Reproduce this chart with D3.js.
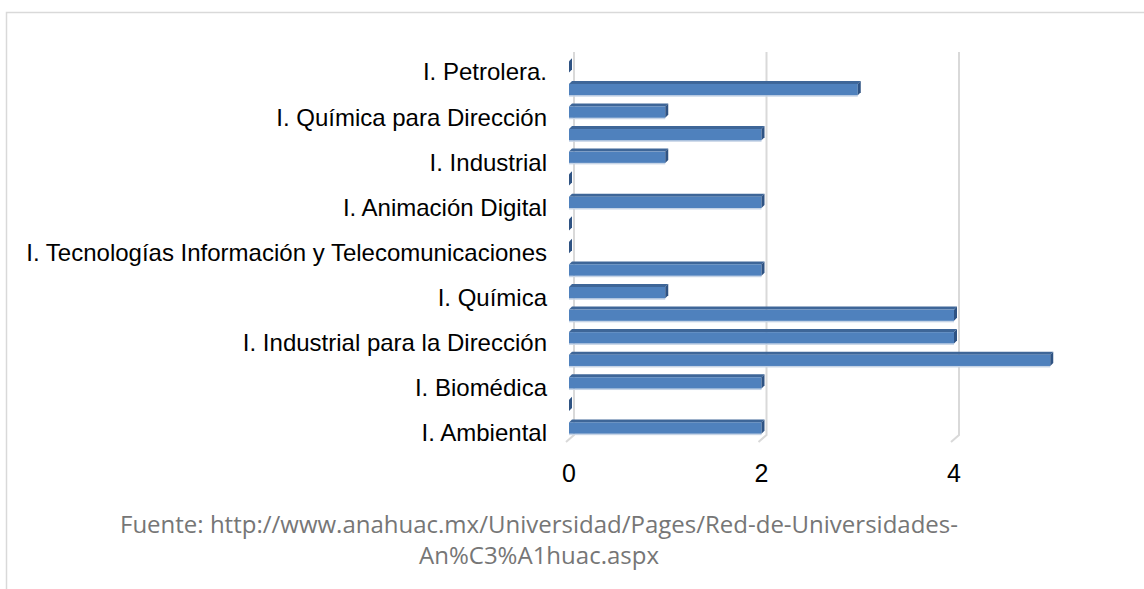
<!DOCTYPE html>
<html>
<head>
<meta charset="utf-8">
<script src="https://cdn.jsdelivr.net/npm/d3@7"></script>
<style>
  html, body { margin: 0; padding: 0; background: #fff; }
  svg { display: block; }
</style>
</head>
<body>
<script>
var labels = ['I. Petrolera.', '', 'I. Química para Dirección', '', 'I. Industrial', '',
  'I. Animación Digital', '', 'I. Tecnologías Información y Telecomunicaciones', '',
  'I. Química', '', 'I. Industrial para la Dirección', '', 'I. Biomédica', '', 'I. Ambiental'];
var values = [0, 3, 1, 2, 1, 0, 2, 0, 0, 2, 1, 4, 4, 5, 2, 0, 2];
var ticks = [0, 2, 4];
var sourceLines = ['Fuente:  http://www.anahuac.mx/Universidad/Pages/Red-de-Universidades-',
  'An%C3%A1huac.aspx'];

(function () {
  'use strict';
  var svgEl, x, y, depth = 3;

  init();

  function init() {
    svgEl = d3.select('body')
      .append('svg')
      .attr('width', 1144)
      .attr('height', 589);

    // outer frame, right and bottom edges run off the page
    svgEl.append('rect')
      .attr('x', 6.5)
      .attr('y', 12.5)
      .attr('width', 1200)
      .attr('height', 700)
      .attr('fill', 'none')
      .attr('stroke', '#d9d9d9')
      .attr('stroke-width', 1.5);

    x = d3.scaleLinear().domain([0, 4]).range([569, 954]);
    y = d3.scaleBand()
      .domain(d3.range(values.length))
      .range([55.7, 439.3])
      .paddingInner(0.5)
      .paddingOuter(0.25);

    drawGrid();
    drawBars();
    drawLabels();
    drawSource();
  }

  function drawGrid() {
    svgEl.append('g')
      .selectAll('path')
      .data(ticks)
      .enter()
      .append('path')
      .attr('d', function (d) {
        var bx = x(d) + 5;
        return 'M' + bx + ',52 L' + bx + ',435 L' + (bx - 8) + ',442';
      })
      .attr('fill', 'none')
      .attr('stroke', '#d9d9d9')
      .attr('stroke-width', 2);

    svgEl.append('g')
      .selectAll('text')
      .data(ticks)
      .enter()
      .append('text')
      .attr('x', function (d) {
        return x(d);
      })
      .attr('y', 482)
      .attr('text-anchor', 'middle')
      .attr('font-family', 'Liberation Sans, Arial, sans-serif')
      .attr('font-size', 25)
      .attr('fill', '#000')
      .text(function (d) {
        return d;
      });
  }

  function drawBars() {
    var bars = svgEl.append('g')
      .selectAll('g')
      .data(values)
      .enter()
      .append('g');

    // soft reflection under the bar
    bars.append('rect')
      .attr('x', x(0))
      .attr('y', function (d, i) {
        return y(i) + y.bandwidth();
      })
      .attr('width', function (d) {
        return Math.max(0, x(d) - x(0));
      })
      .attr('height', 1.5)
      .attr('fill', '#c6d4e6');

    // top face
    bars.append('path')
      .attr('d', function (d, i) {
        var x0 = x(0), x1 = x(d), y0 = y(i);
        return 'M' + x0 + ',' + y0 + ' L' + (x0 + depth) + ',' + (y0 - depth) +
          ' L' + (x1 + depth) + ',' + (y0 - depth) + ' L' + x1 + ',' + y0 + 'Z';
      })
      .attr('fill', '#3e6698');

    // front face
    bars.append('rect')
      .attr('x', x(0))
      .attr('y', function (d, i) {
        return y(i);
      })
      .attr('width', function (d) {
        return x(d) - x(0);
      })
      .attr('height', y.bandwidth())
      .attr('fill', '#4f81bd');

    // right face
    bars.append('path')
      .attr('d', function (d, i) {
        var x1 = x(d), y0 = y(i), y1 = y(i) + y.bandwidth();
        return 'M' + x1 + ',' + y0 + ' L' + (x1 + depth) + ',' + (y0 - depth) +
          ' L' + (x1 + depth) + ',' + (y1 - depth) + ' L' + x1 + ',' + y1 + 'Z';
      })
      .attr('fill', '#2f5383');
  }

  function drawLabels() {
    svgEl.append('g')
      .selectAll('text')
      .data(labels)
      .enter()
      .append('text')
      .attr('x', 547)
      .attr('y', function (d, i) {
        return y(i) + y.bandwidth() / 2 + 5;
      })
      .attr('dy', '0.35em')
      .attr('text-anchor', 'end')
      .attr('font-family', 'Liberation Sans, Arial, sans-serif')
      .attr('font-size', 24)
      .attr('fill', '#000')
      .text(function (d) {
        return d;
      });
  }

  function drawSource() {
    svgEl.append('g')
      .selectAll('text')
      .data(sourceLines)
      .enter()
      .append('text')
      .attr('x', 539)
      .attr('y', function (d, i) {
        return 533 + i * 31;
      })
      .attr('text-anchor', 'middle')
      .attr('font-family', 'Open Sans, sans-serif')
      .attr('font-size', 24)
      .attr('fill', '#767676')
      .text(function (d) {
        return d;
      });
  }
}());
</script>
</body>
</html>
